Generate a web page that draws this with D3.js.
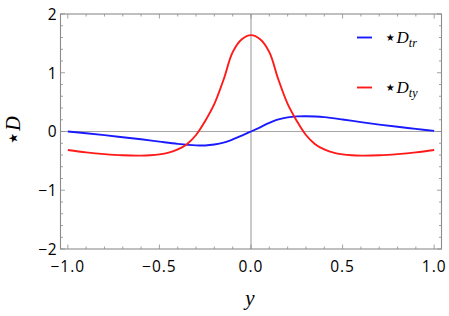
<!DOCTYPE html>
<html><head><meta charset="utf-8">
<script src="https://cdn.jsdelivr.net/npm/d3@7"></script>
<style>body{margin:0;background:#fff;} svg{display:block;}</style>
</head><body>
<svg id="c" width="449" height="316"></svg>
<script>
// data
const redX = [-1.0,-0.9,-0.8,-0.7,-0.6,-0.55,-0.5,-0.45,-0.4,-0.35,-0.3,-0.25,-0.2,-0.15,-0.1,-0.05,0,0.05,0.1,0.15,0.2,0.25,0.3,0.35,0.4,0.45,0.5,0.55,0.6,0.7,0.8,0.9,1.0];
const redY = [-0.315,-0.355,-0.385,-0.405,-0.41,-0.405,-0.39,-0.36,-0.305,-0.215,-0.06,0.18,0.47,0.88,1.35,1.57,1.64,1.57,1.35,0.88,0.47,0.18,-0.06,-0.215,-0.305,-0.36,-0.39,-0.405,-0.41,-0.405,-0.385,-0.355,-0.315];
const blueX = [-1.0,-0.9,-0.8,-0.7,-0.6,-0.5,-0.4,-0.3,-0.25,-0.2,-0.15,-0.1,-0.05,0,0.05,0.1,0.15,0.2,0.25,0.3,0.35,0.4,0.5,0.6,0.7,0.8,0.9,1.0];
const blueY = [0,-0.03,-0.062,-0.097,-0.132,-0.172,-0.21,-0.236,-0.238,-0.222,-0.19,-0.135,-0.07,0,0.072,0.145,0.205,0.24,0.257,0.26,0.256,0.245,0.205,0.16,0.118,0.08,0.045,0.01];
const xMajor = [-1.0,-0.5,0.0,0.5,1.0];
const xLabels = ["\u22121.0","\u22120.5","0.0","0.5","1.0"];
const yMajor = [-2,-1,0,1,2];
const yLabels = ["\u22122","\u22121","0","1","2"];
const seriesNames = [["D","tr"],["D","ty"]];
const seriesColors = ["#1a1aff","#ff1a1a"];

const svg = d3.select("#c");
const L=60.5, R=441.5, T=14, B=249;
const x = d3.scaleLinear().domain([-1.04,1.04]).range([L,R]);
const y = d3.scaleLinear().domain([-2,2]).range([B,T]);

const frameCol="#8c8c8c", axCol="#a6a6a6";
svg.append("line").attr("x1",L).attr("x2",R).attr("y1",y(0)).attr("y2",y(0)).attr("stroke",axCol).attr("stroke-width",1);
svg.append("line").attr("x1",x(0)).attr("x2",x(0)).attr("y1",T).attr("y2",B).attr("stroke",axCol).attr("stroke-width",1.2);

const xMinor = d3.range(-10,11).map(i=>i/10);
const yMinor = d3.range(-10,11).map(i=>i/5);
const tg = svg.append("g").attr("stroke",frameCol).attr("stroke-width",0.8);
xMinor.forEach(v=>{
  const maj = xMajor.some(m=>Math.abs(m-v)<1e-9);
  const len = maj?4.5:2.5;
  tg.append("line").attr("x1",x(v)).attr("x2",x(v)).attr("y1",B).attr("y2",B-len);
  tg.append("line").attr("x1",x(v)).attr("x2",x(v)).attr("y1",T).attr("y2",T+len);
});
yMinor.forEach(v=>{
  const maj = yMajor.some(m=>Math.abs(m-v)<1e-9);
  const len = maj?4.5:2.5;
  tg.append("line").attr("y1",y(v)).attr("y2",y(v)).attr("x1",L).attr("x2",L+len);
  tg.append("line").attr("y1",y(v)).attr("y2",y(v)).attr("x1",R).attr("x2",R-len);
});
svg.append("rect").attr("x",L).attr("y",T).attr("width",R-L).attr("height",B-T)
  .attr("fill","none").attr("stroke",frameCol).attr("stroke-width",1.1);

const lf = "'Open Sans', 'Noto Sans', sans-serif";
xMajor.forEach((v,i)=>{
  svg.append("text").attr("x",x(v)).attr("y",272).attr("text-anchor","middle")
    .attr("font-family",lf).attr("font-size",15.5).attr("letter-spacing",1).attr("fill","#000").text(xLabels[i]);
});
yMajor.forEach((v,i)=>{
  svg.append("text").attr("x",57).attr("y",y(v)+5.8).attr("text-anchor","end")
    .attr("font-family",lf).attr("font-size",15.5).attr("letter-spacing",0.5).attr("fill","#000").text(yLabels[i]);
});

const line = d3.line().x(d=>x(d[0])).y(d=>y(d[1])).curve(d3.curveCatmullRom.alpha(0.5));
const blue = blueX.map((v,i)=>[v,blueY[i]]);
const red = redX.map((v,i)=>[v,redY[i]]);
svg.append("path").attr("d",line(blue)).attr("fill","none").attr("stroke",seriesColors[0]).attr("stroke-width",1.9);
svg.append("path").attr("d",line(red)).attr("fill","none").attr("stroke",seriesColors[1]).attr("stroke-width",1.9);

const sf = "'Liberation Serif', 'DejaVu Serif', serif";
svg.append("text").attr("x",250).attr("y",305).attr("text-anchor","middle")
  .attr("font-family",sf).attr("font-style","italic").attr("font-size",21).text("y");
const yl = svg.append("text").attr("transform","translate(20,131) rotate(-90)").attr("text-anchor","middle")
  .attr("font-family",sf).attr("font-size",20);
yl.append("tspan").attr("font-family","'DejaVu Sans', sans-serif").attr("font-size",24).attr("dy",1).text("\u22C6");
yl.append("tspan").attr("font-style","italic").attr("dy",-1).text("D");

const legY = [37.5, 87.5];
seriesNames.forEach((n,i)=>{
  svg.append("line").attr("x1",357).attr("x2",372).attr("y1",legY[i]).attr("y2",legY[i])
    .attr("stroke",seriesColors[i]).attr("stroke-width",1.9);
  const t = svg.append("text").attr("x",384).attr("y",legY[i]+5).attr("font-family",sf).attr("font-size",17).attr("fill","#000");
  t.append("tspan").attr("font-family","'DejaVu Sans', sans-serif").attr("font-size",20).attr("dy",1).text("\u22C6");
  t.append("tspan").attr("font-style","italic").attr("dy",-1).text(n[0]);
  t.append("tspan").attr("font-style","italic").attr("font-size",12).attr("dy",4).text(n[1]);
});
</script>
</body></html>
